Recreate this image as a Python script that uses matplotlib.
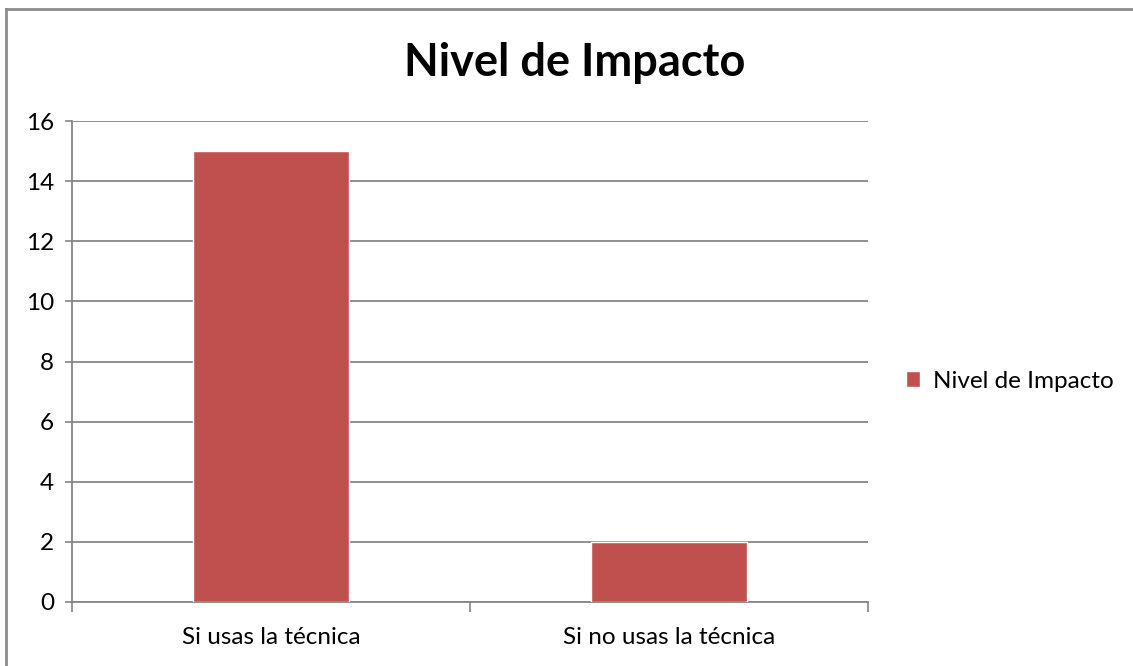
import matplotlib
matplotlib.use('Agg')
import matplotlib.pyplot as plt
from matplotlib.lines import Line2D

categorias = ['Si usas la técnica', 'Si no usas la técnica']
valores = [15, 2]
serie = 'Nivel de Impacto'
titulo = 'Nivel de Impacto'

plt.rcParams['font.family'] = ['Lato', 'DejaVu Sans']

fig = plt.figure(figsize=(11.33, 6.66), dpi=100)
ax = fig.add_axes([72/1133, 64/666, 796/1133, 481/666])

pos = list(range(len(categorias)))
ax.bar(pos, valores, width=0.39, color='#C0504D', edgecolor='white',
       linewidth=1, zorder=3, label=serie)

ax.set_xlim(-0.5, len(categorias) - 0.5)
ax.set_ylim(0, 16)
ax.set_yticks(range(0, 17, 2))
ax.yaxis.grid(True, color='#868686', linewidth=1.3, zorder=0)

ax.set_xticks([p - 0.5 for p in pos] + [pos[-1] + 0.5])
ax.set_xticklabels([])
ax.set_xticks(pos, minor=True)
ax.set_xticklabels(categorias, minor=True, fontsize=17.5)
ax.tick_params(axis='x', which='minor', length=0, pad=18)
ax.tick_params(axis='x', which='major', length=7, width=1.2, color='#868686')
ax.tick_params(axis='y', length=5, width=1.2, color='#868686', labelsize=17.5, pad=8)

for s in ['top', 'right']:
    ax.spines[s].set_visible(False)
for s in ['left', 'bottom']:
    ax.spines[s].set_color('#868686')
    ax.spines[s].set_linewidth(1.3)

fig.text(575/1133, 1 - 63/666, titulo, ha='center', va='center',
         fontsize=32.5, fontweight='bold')

fig.legend(loc='center left', bbox_to_anchor=(884/1133, 1 - 381/666),
           frameon=False, fontsize=17.5, handlelength=0.6, handleheight=0.6,
           handletextpad=0.5)

# borde del gráfico (solo arriba e izquierda visibles)
fig.add_artist(Line2D([6/1133, 1], [1 - 9/666, 1 - 9/666], color='#8c8c8c',
                      linewidth=2, transform=fig.transFigure))
fig.add_artist(Line2D([6/1133, 6/1133], [0, 1 - 9/666], color='#8c8c8c',
                      linewidth=2, transform=fig.transFigure))

fig.savefig('out.png', dpi=100)
